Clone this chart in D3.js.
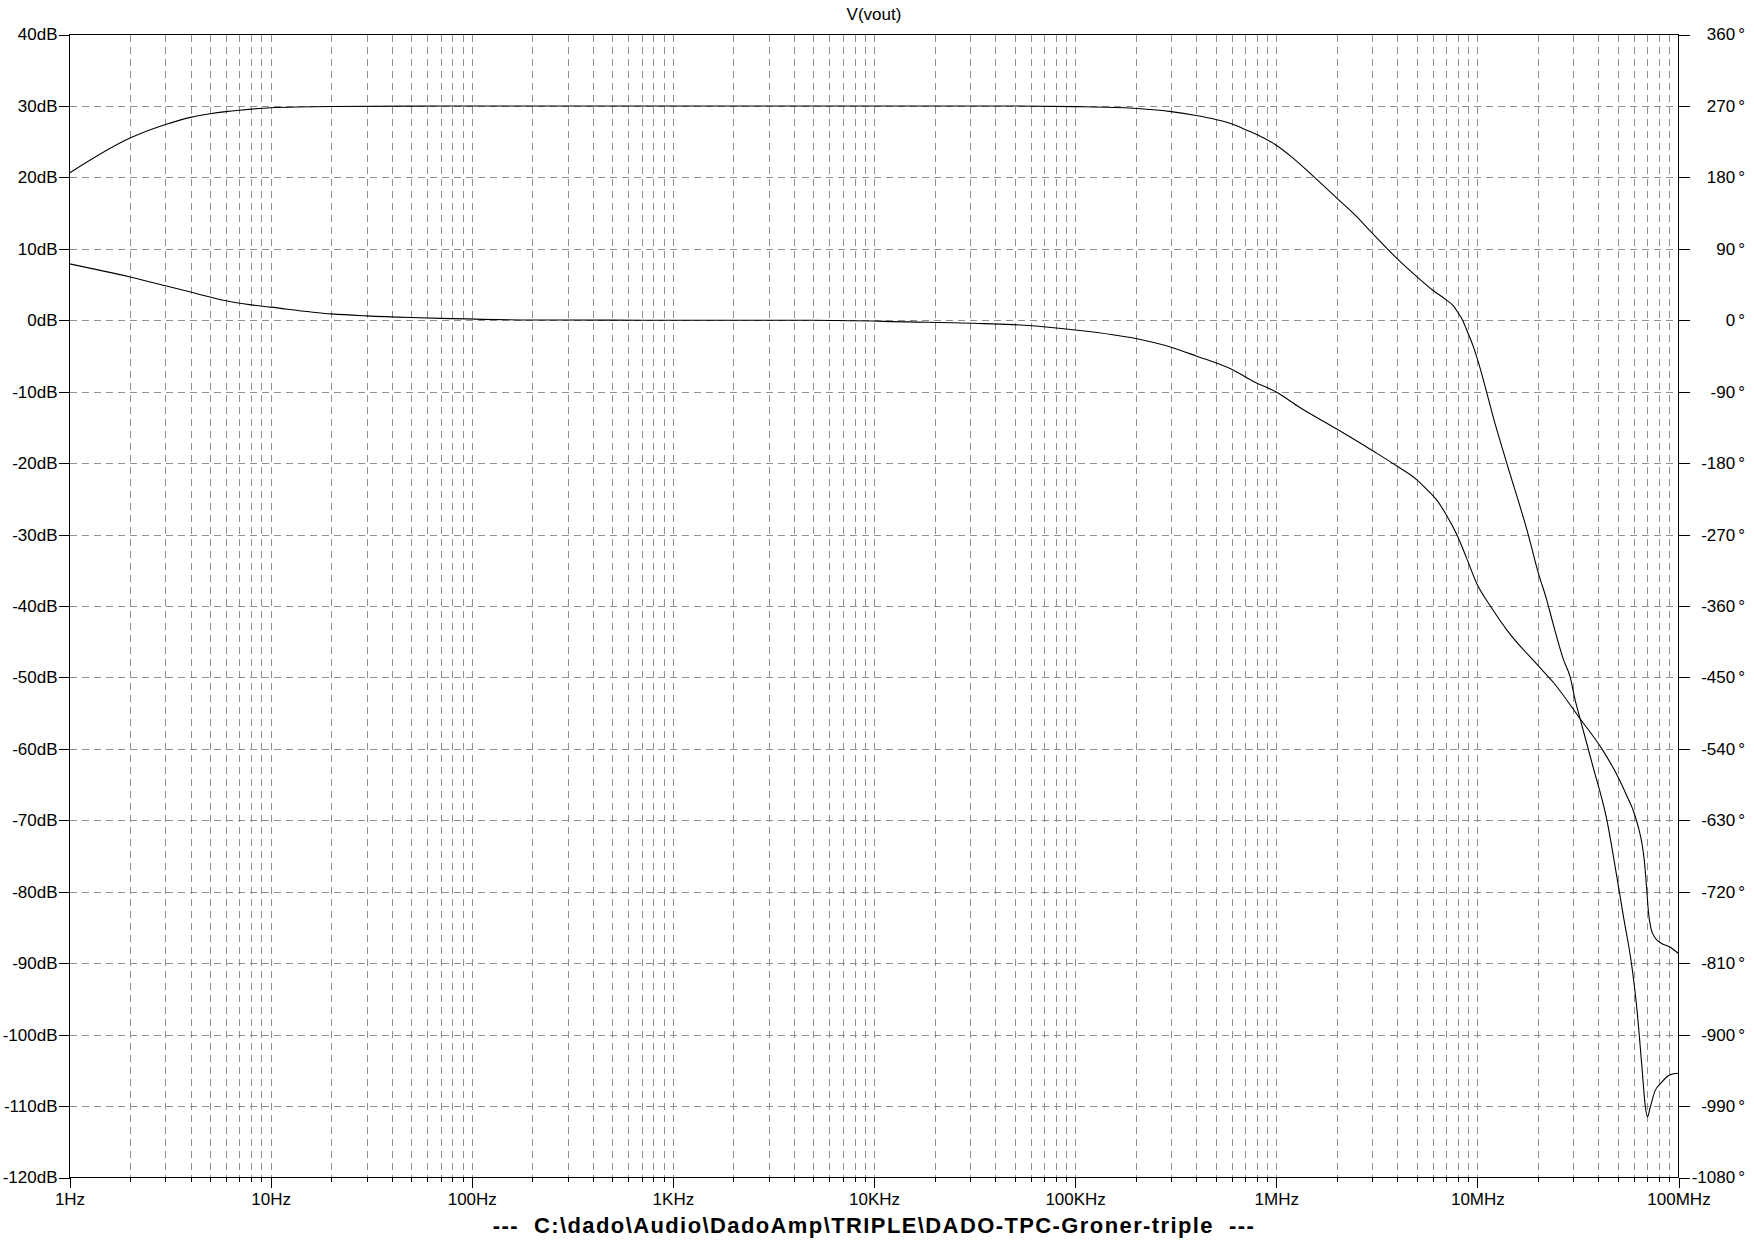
<!DOCTYPE html>
<html>
<head>
<meta charset="utf-8">
<script src="https://cdn.jsdelivr.net/npm/d3@7"></script>
<style>
  html, body { margin: 0; padding: 0; background: #ffffff; }
  svg { display: block; }
  text { font-family: "Liberation Sans", Arial, Helvetica, sans-serif; fill: #000; }
</style>
</head>
<body>
<svg id="chart" width="1754" height="1240"></svg>
<script>
// ---------------- data ----------------
const chartTitle = "V(vout)";
const caption = "---  C:\\dado\\Audio\\DadoAmp\\TRIPLE\\DADO-TPC-Groner-triple  ---";

// Magnitude (dB) vs frequency (Hz)
const magFreq = [1, 2, 3, 4, 5, 6, 7, 8, 10, 20, 50, 100, 1e4, 4.2e4, 1.01e5, 1.95e5, 3.0e5, 4.0e5, 5.0e5, 6.0e5, 7.0e5, 8.0e5,
  1.0e6, 1.2e6, 1.47e6, 2.0e6, 2.42e6, 3.0e6, 4.0e6, 5.0e6, 6.0e6, 7.0e6, 7.6e6, 8.04e6, 8.35e6, 8.85e6, 9.55e6,
  1.05e7, 1.11e7, 1.2e7, 1.4e7, 1.79e7, 2.01e7, 2.21e7, 2.36e7, 2.68e7, 2.89e7, 3.06e7, 3.25e7, 3.75e7, 4.4e7,
  4.93e7, 5.32e7, 5.86e7, 6.21e7, 6.57e7, 6.83e7, 7.01e7, 7.23e7, 7.66e7, 8.11e7, 9.1e7, 1e8];
const magDb = [20.6, 25.5, 27.4, 28.4, 28.9, 29.2, 29.4, 29.55, 29.75, 29.93, 29.98, 30, 30, 30, 29.9, 29.67, 29.2, 28.65, 28.1, 27.5, 26.7, 26.0,
  24.5, 22.8, 20.6, 17.1, 14.95, 12.2, 8.6, 6.1, 4.2, 2.85, 2.0, 1.0, 0.28, -1.36, -3.7,
  -7.46, -10, -13.6, -20, -30, -35.4, -39.1, -42.1, -47.5, -49.9, -53.1, -55.9, -62.4, -69.9,
  -77.8, -83.4, -90.4, -96.4, -104.3, -109.9, -111.5, -110.2, -107.8, -106.9, -105.6, -105.4];

// Phase (degrees) vs frequency (Hz)
const phaseFreq = [1, 2, 3, 4, 5, 6, 8, 10, 20, 30, 50, 80, 200, 500, 1000, 5000, 1.5e4, 3.5e4, 5.6e4, 1e5, 2e5, 3e5, 4e5, 6e5, 7.8e5,
  1e6, 1.31e6, 2e6, 3e6, 4e6, 5e6, 5.6e6, 6.3e6, 7.0e6, 7.9e6, 8.85e6, 9.9e6, 1.16e7, 1.4e7, 2.02e7, 2.4e7, 3.24e7,
  4.16e7, 5.02e7, 5.53e7, 6.04e7, 6.32e7, 6.57e7, 6.75e7, 6.96e7, 7.09e7, 7.31e7, 7.65e7, 8.1e7, 9.1e7, 1e8];
const phaseDeg = [71, 54.5, 43.5, 35.5, 29.2, 24.5, 19.4, 16.5, 8, 5.5, 3.4, 2, 0.4, 0.1, 0, 0, -2.1, -4.2, -6.3, -12.2, -23.1, -34, -45, -61.8, -77.8,
  -90.4, -110, -137, -164, -184, -201, -213, -227, -245, -270, -300, -331, -360, -390, -436, -457, -502,
  -540, -576, -599, -622, -639, -658, -679, -719, -746, -767, -778, -784, -790, -798];

// Axis ticks
const dbTicks = [40, 30, 20, 10, 0, -10, -20, -30, -40, -50, -60, -70, -80, -90, -100, -110, -120];
const degTicks = [360, 270, 180, 90, 0, -90, -180, -270, -360, -450, -540, -630, -720, -810, -900, -990, -1080];
const freqTicks = [1, 10, 100, 1e3, 1e4, 1e5, 1e6, 1e7, 1e8];
const freqTickLabels = ["1Hz", "10Hz", "100Hz", "1KHz", "10KHz", "100KHz", "1MHz", "10MHz", "100MHz"];

// ---------------- layout ----------------
const L = 69.5, R = 1678.5, T = 34.5, B = 1177.5;
const svg = d3.select("#chart");

const x = d3.scaleLog().domain([1, 1e8]).range([L, R]);
const yDb = d3.scaleLinear().domain([-120, 40]).range([B, T]);
const yDeg = d3.scaleLinear().domain([-1080, 360]).range([B, T]);

// minor frequency positions
const minorFreqs = [];
for (let e = 0; e < 8; e++) for (let m = 2; m <= 9; m++) minorFreqs.push(m * Math.pow(10, e));
const gridFreqs = minorFreqs.concat(freqTicks.slice(1, -1));

const gridColor = "#8f8f8f";
const dash = "7,5";

// vertical grid
svg.append("g").selectAll("line").data(gridFreqs).join("line")
  .attr("x1", d => Math.round(x(d)) + 0.5).attr("x2", d => Math.round(x(d)) + 0.5)
  .attr("y1", T).attr("y2", B)
  .attr("stroke", gridColor).attr("stroke-width", 1).attr("stroke-dasharray", dash).attr("shape-rendering", "crispEdges");

// horizontal grid
svg.append("g").selectAll("line").data(dbTicks.slice(1, -1)).join("line")
  .attr("x1", L).attr("x2", R)
  .attr("y1", d => Math.round(yDb(d)) + 0.5).attr("y2", d => Math.round(yDb(d)) + 0.5)
  .attr("stroke", gridColor).attr("stroke-width", 1).attr("stroke-dasharray", dash).attr("shape-rendering", "crispEdges");

// frame
svg.append("rect").attr("x", L).attr("y", T).attr("width", R - L).attr("height", B - T)
  .attr("fill", "none").attr("stroke", "#000").attr("stroke-width", 1).attr("shape-rendering", "crispEdges");

// left axis
const leftAxis = d3.axisLeft(yDb).tickValues(dbTicks).tickSize(11).tickPadding(1).tickFormat(d => d + "dB");
const gl = svg.append("g").attr("transform", `translate(${L},0)`).call(leftAxis);
gl.select(".domain").remove();
gl.selectAll("text").attr("font-size", 17).attr("font-family", "Liberation Sans, Arial, sans-serif").attr("fill", "#000");
gl.selectAll("line").attr("stroke", "#000").attr("shape-rendering", "crispEdges");

// right axis
const rightAxis = d3.axisRight(yDeg).tickValues(degTicks).tickSize(11).tickPadding(17).tickFormat(d => d + "°");
const gr = svg.append("g").attr("transform", `translate(${R},0)`).call(rightAxis);
gr.select(".domain").remove();
gr.selectAll("text").attr("font-size", 17).attr("font-family", "Liberation Sans, Arial, sans-serif").attr("fill", "#000")
  .attr("text-anchor", "end").attr("x", 1745 - R)
  .each(function (d) {
    const t = d3.select(this);
    t.text(null);
    t.append("tspan").text(String(d));
    t.append("tspan").attr("dx", 3).text("°");
  });
gr.selectAll("line").attr("stroke", "#000").attr("shape-rendering", "crispEdges");

// bottom axis (major)
const bottomAxis = d3.axisBottom(x).tickValues(freqTicks).tickSize(10).tickPadding(5)
  .tickFormat((d, i) => freqTickLabels[i]);
const gb = svg.append("g").attr("transform", `translate(0,${B})`).call(bottomAxis);
gb.select(".domain").remove();
gb.selectAll("text").attr("font-size", 17).attr("font-family", "Liberation Sans, Arial, sans-serif").attr("fill", "#000");
gb.selectAll("line").attr("stroke", "#000").attr("shape-rendering", "crispEdges");

// bottom axis (minor)
const bottomMinor = d3.axisBottom(x).tickValues(minorFreqs).tickSize(4).tickFormat("");
const gbm = svg.append("g").attr("transform", `translate(0,${B})`).call(bottomMinor);
gbm.select(".domain").remove();
gbm.selectAll("line").attr("stroke", "#000").attr("shape-rendering", "crispEdges");

// curves
const magData = magFreq.map((f, i) => ({ f, v: magDb[i] }));
const phaseData = phaseFreq.map((f, i) => ({ f, v: phaseDeg[i] }));

svg.append("clipPath").attr("id", "plotclip").append("rect")
  .attr("x", L).attr("y", T).attr("width", R - L).attr("height", B - T);

const lineMag = d3.line().x(d => x(d.f)).y(d => yDb(d.v)).curve(d3.curveMonotoneX);
const linePhase = d3.line().x(d => x(d.f)).y(d => yDeg(d.v)).curve(d3.curveMonotoneX);

svg.append("path").datum(phaseData).attr("d", linePhase)
  .attr("fill", "none").attr("stroke", "#000").attr("stroke-width", 1.1).attr("clip-path", "url(#plotclip)");
svg.append("path").datum(magData).attr("d", lineMag)
  .attr("fill", "none").attr("stroke", "#000").attr("stroke-width", 1.1).attr("clip-path", "url(#plotclip)");

// title
svg.append("text").attr("x", (L + R) / 2).attr("y", 20).attr("text-anchor", "middle")
  .attr("font-size", 17).text(chartTitle);

// caption
svg.append("text").attr("x", (L + R) / 2).attr("y", 1233).attr("text-anchor", "middle")
  .attr("font-size", 22).attr("font-weight", "bold").attr("letter-spacing", "1.4px")
  .style("white-space", "pre").attr("xml:space", "preserve").text(caption);
</script>
</body>
</html>
